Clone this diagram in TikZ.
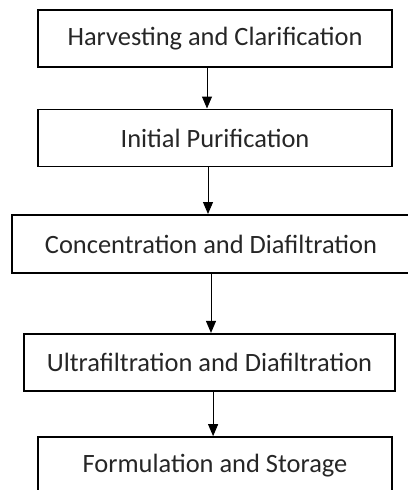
\documentclass[tikz,border=0pt]{standalone}
\usepackage{fontspec}
\setmainfont{Carlito}
\usetikzlibrary{arrows.meta}
\tikzset{
  stage/.style={draw, line width=1.4pt, minimum height=1.425cm, inner sep=0pt,
    text=black!85, font=\fontsize{18.8}{22}\selectfont},
  flow/.style={line width=0.7pt, -{Triangle[length=0.3cm,width=0.25cm]}}
}
\begin{document}
\begin{tikzpicture}
            \useasboundingbox (0,0) rectangle (10.2,-12.25);
            \node[stage, minimum width=8.85cm] (harvest) at (5.375,-0.96) {Harvesting and Clarification};
            \node[stage, minimum width=8.85cm] (initial) at (5.375,-3.45) {Initial Purification};
            \node[stage, minimum width=9.95cm, minimum height=1.45cm] (concent) at (5.275,-6.1) {Concentration and Diafiltration};
            \node[stage, minimum width=9.275cm] (ultra) at (5.2375,-9.06) {Ultrafiltration and Diafiltration};
            \node[stage, minimum width=8.85cm] (formul) at (5.375,-11.64) {Formulation and Storage};
            \draw[flow] ([xshift=-0.2cm]harvest.south) -- ([xshift=-0.2cm]harvest.south |- initial.north);
            \draw[flow] ([xshift=-0.175cm]initial.south) -- ([xshift=-0.175cm]initial.south |- concent.north);
            \draw[flow] (concent.south) -- (concent.south |- ultra.north);
            \draw[flow] ([xshift=0.09cm]ultra.south) -- ([xshift=0.09cm]ultra.south |- formul.north);
        \end{tikzpicture}
\end{document}
